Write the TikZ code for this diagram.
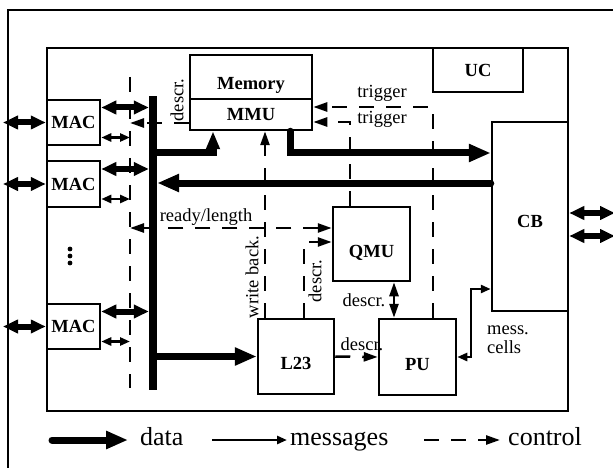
\documentclass[tikz,border=0pt]{standalone}
\usepackage{fontspec}
\setmainfont{Liberation Serif}
\usetikzlibrary{arrows.meta}
\newcommand\lblfont{\fontsize{18.5}{19}\selectfont}
\newcommand\legfont{\fontsize{26}{30}\selectfont}

\begin{document}
\begin{tikzpicture}[x=1pt, y=-1pt,
  panel/.style={rectangle, draw, line width=2.5pt, inner sep=0pt},
  block/.style={panel, font=\lblfont\bfseries},
  lowtext/.style={text height=26pt, text depth=0pt},
  lbl/.style={font=\lblfont, inner sep=0pt},
  leg/.style={font=\legfont, inner sep=0pt, anchor=base west},
  dat/.style={>={Triangle[length=22pt,width=17pt]}, ->, line width=7pt, line cap=round},
  datb/.style={>={Triangle[length=15pt,width=13pt]}, <->, line width=6pt},
  msg/.style={>={Triangle[length=10pt,width=8pt]}, ->, line width=2.5pt},
  ctlline/.style={line width=2.5pt, dash pattern=on 15pt off 12pt},
  ctl/.style={ctlline, >={Triangle[length=14pt,width=9pt]}, ->}
]
  \useasboundingbox (0,0) rectangle (613,468);
  \clip (0,0) rectangle (613,468);
  \draw[line width=2pt] (8,480) -- (8,10) -- (625,10);

  % Blocs
  \node[panel, minimum width=521pt, minimum height=363pt] (board) at (307.5,229.5) {};
  \node[block, lowtext, minimum width=122pt, minimum height=44pt] (mem) at (251,77) {Memory};
  \node[block, minimum width=122pt, minimum height=31pt] (mmu) at (251,114.5) {MMU};
  \node[block, minimum width=90pt, minimum height=44pt] (uc) at (478,70) {UC};
  \node[block, text height=21pt, text depth=0pt, minimum width=76pt, minimum height=189pt] (cb) at (530,216.5) {CB};
  \node[block, minimum width=53pt, minimum height=45pt] (mac1) at (73.5,122.5) {MAC};
  \node[block, minimum width=53pt, minimum height=46pt] (mac2) at (73.5,184) {MAC};
  \node[block, minimum width=53pt, minimum height=45pt] (mac3) at (73.5,326.5) {MAC};
  \node[block, lowtext, minimum width=77pt, minimum height=74pt] (qmu) at (371.5,244) {QMU};
  \node[block, lowtext, minimum width=76pt, minimum height=75pt] (l23) at (296,356.5) {L23};
  \node[block, lowtext, minimum width=77pt, minimum height=76pt] (pu) at (417.5,357) {PU};
  \foreach \y in {249,256,263}
    \fill (70,\y) circle (2.4pt);

  % Bus et ligne de controle
  \node[fill, inner sep=0pt, minimum width=8pt, minimum height=294pt] (bus) at (153,243) {};
  \coordinate (ctltop) at (130,77);
  \coordinate (ctlbot) at (130,388);
  \draw[ctlline] (ctltop) -- (ctlbot);

  % Ports MAC
  \coordinate (wall) at (3,0);
  \foreach \m in {mac1,mac2,mac3} {
    \draw[datb] (\m.west -| wall) -- (\m.west);
    \draw[datb] ([yshift=15pt]\m.east) -- ([yshift=15pt]\m.east -| bus.west);
    \draw[msg, <->] ([yshift=-15pt]\m.east) -- ([yshift=-15pt]\m.east -| ctltop);
  }
  \coordinate (rim) at (615,0);
  \draw[datb] ([yshift=3.5pt]cb.east) -- ([yshift=3.5pt]cb.east -| rim);
  \draw[datb] ([yshift=-19.5pt]cb.east) -- ([yshift=-19.5pt]cb.east -| rim);

  % Donnees
  \coordinate (wr) at (213,153);
  \coordinate (rd) at (290,153);
  \draw[dat, >={Triangle[length=18pt,width=13pt]}] (bus.east |- wr) -| (mmu.south -| wr);
  \draw[dat] (mmu.south -| rd) |- (cb.west |- rd);
  \draw[dat] ([yshift=33.5pt]cb.west) -- ([yshift=33.5pt]cb.west -| bus.east);
  \draw[dat] (l23.west -| bus.east) -- (l23.west);

  % Controle
  \draw[ctl] ([yshift=-8.5pt]mmu.west) -- ([yshift=-8.5pt]mmu.west -| ctltop);
  \node[lbl, rotate=90] (dsc1) at (177,100) {descr.};
  \draw[ctl] ([xshift=15.5pt]pu.north) |- ([yshift=7.5pt]mmu.east);
  \draw[ctl] ([xshift=-21.5pt]qmu.north) |- ([yshift=-7.5pt]mmu.east);
  \node[lbl] (trig1) at (382,93) {trigger};
  \node[lbl] (trig2) at (382,119) {trigger};
  \draw[ctl] ([xshift=-31pt]l23.north) -- ([xshift=-31pt]l23.north |- mmu.south);
  \node[lbl, rotate=90] (wback) at (252,277) {write back.};
  \draw[ctl, <->] ([yshift=16pt]qmu.west) -- ([yshift=16pt]qmu.west -| ctltop);
  \node[lbl] (ready) at (206,217) {ready/length};
  \draw[ctl] ([xshift=8pt]l23.north) |- ([yshift=2pt]qmu.west);
  \node[lbl, rotate=90] (dsc2) at (315,281) {descr.};
  \draw[ctl, <->] ([xshift=22.5pt]qmu.south) -- ([xshift=22.5pt]qmu.south |- pu.north);
  \node[lbl] (dsc3) at (364,300) {descr.};
  \draw[ctl] (l23.east) -- (pu.west);
  \node[lbl] (dsc4) at (362,344) {descr.};

  % Messages
  \coordinate (ms) at (471,289);
  \draw[msg, <->] (pu.east) -| (ms) -- (cb.west |- ms);
  \node[lbl, align=left, anchor=west] (cells) at (487,340) {mess.\\cells};

  % Legende
  \coordinate (ldat) at (52,440);
  \node[leg] (tdat) at (140,445) {data};
  \draw[dat] (ldat) -- ([xshift=-12pt]ldat -| tdat.west);
  \coordinate (lmsg) at (212,440);
  \node[leg] (tmsg) at (290,445) {messages};
  \draw[msg] (lmsg) -- ([xshift=-3pt]lmsg -| tmsg.west);
  \coordinate (lctl) at (424,440);
  \node[leg] (tctl) at (508,445) {control};
  \draw[ctl] (lctl) -- ([xshift=-8pt]lctl -| tctl.west);
\end{tikzpicture}
\end{document}
